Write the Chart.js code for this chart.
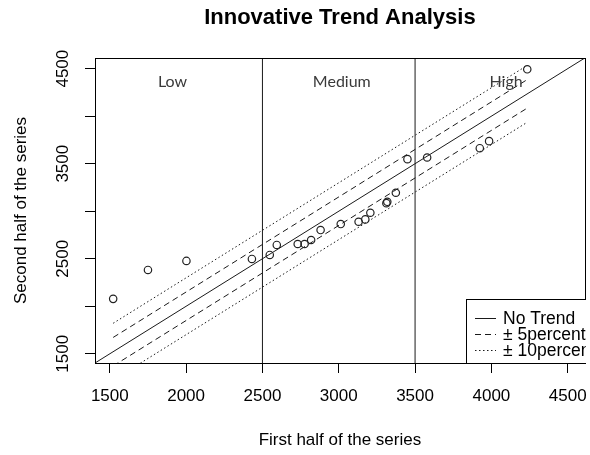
<!DOCTYPE html>
<html>
<head>
<meta charset="utf-8">
<script src="https://cdn.jsdelivr.net/npm/chart.js@4.4.1/dist/chart.umd.min.js"></script>
<style>
  html, body { margin: 0; padding: 0; background: #ffffff; }
  #wrap { width: 590px; height: 455px; position: relative; }
</style>
</head>
<body>
<div id="wrap"><canvas id="ita" width="590" height="455"></canvas></div>
<script>
// Sorted first half vs. sorted second half of the series
const firstHalf  = [1522, 1750, 2002, 2431, 2548, 2594, 2731, 2776, 2819, 2881, 3013,
                    3130, 3174, 3207, 3318, 3312, 3374, 3450, 3579, 3924, 3985, 4235];
const secondHalf = [2078, 2382, 2477, 2498, 2540, 2645, 2655, 2655, 2697, 2802, 2865,
                    2889, 2914, 2984, 3099, 3085, 3194, 3548, 3565, 3663, 3737, 4493];

// Axis range and tick labels
const axisLimits  = [1403, 4612];
const xTickValues = [1500, 2000, 2500, 3000, 3500, 4000, 4500];
const yTickLabels = [1500, 2500, 3500, 4500];

// 1:1 line and the ±5 % / ±10 % bands (endpoints at the first-half extremes)
const noTrendLine = [1403, 4612];
const bandX       = [1522, 4235];
const upper5      = [1672, 4385];
const lower5      = [1372, 4085];
const upper10     = [1821, 4534];
const lower10     = [1223, 3936];

// Low / Medium / High classes
const classBreaks = [2500, 3500];
const classNames  = ['Low', 'Medium', 'High'];
const legendLabels = ['No Trend', '\u00B1 5percent', '\u00B1 10percent'];

const SANS = "'Liberation Sans', Arial, sans-serif";
const INK = '#1a1a1a';
const DASH = [6, 4];
const DOT = [1.5, 2.5];

const pts = (xs, ys) => xs.map((x, i) => ({ x: x, y: ys[i] }));

const lineDs = (data, dash) => ({
  type: 'line', data: data, showLine: true, pointRadius: 0, borderWidth: 1,
  borderColor: INK, borderDash: dash, fill: false, tension: 0, order: 2
});

const datasets = [
  {
    label: 'points', data: pts(firstHalf, secondHalf), showLine: false,
    pointRadius: 3.7, pointBorderWidth: 1.2, pointBorderColor: '#222',
    pointBackgroundColor: 'rgba(0,0,0,0)', order: 1
  },
  lineDs(pts(noTrendLine, noTrendLine), []),
  lineDs(pts(bandX, upper5), DASH),
  lineDs(pts(bandX, lower5), DASH),
  lineDs(pts(bandX, upper10), DOT),
  lineDs(pts(bandX, lower10), DOT)
];
classBreaks.forEach(b => datasets.push(lineDs(pts([b, b], axisLimits), [])));

const decorations = {
  id: 'decorations',
  afterDatasetsDraw(chart) {
    const { ctx, chartArea: a, scales: { x, y } } = chart;
    ctx.save();

    // class names inside the plot
    ctx.fillStyle = '#3a3a3a';
    ctx.font = "16px Lato, 'Open Sans', sans-serif";
    ctx.textAlign = 'center';
    ctx.textBaseline = 'middle';
    const labelX = [1911, 3020, 4096];
    classNames.forEach((n, i) => ctx.fillText(n, x.getPixelForValue(labelX[i]), y.getPixelForValue(4356)));

    // plot frame
    ctx.strokeStyle = '#000';
    ctx.lineWidth = 1;
    ctx.setLineDash([]);
    ctx.strokeRect(Math.round(a.left) + 0.5, Math.round(a.top) + 0.5,
                   Math.round(a.right - a.left), Math.round(a.bottom - a.top));

    // legend, clipped at the right edge of the frame
    ctx.save();
    ctx.beginPath();
    ctx.rect(0, 0, Math.round(a.right) + 1, 455);
    ctx.clip();
    const lx = 466, ly = 299;
    ctx.fillStyle = '#fff';
    ctx.fillRect(lx, ly, 200, Math.round(a.bottom) - ly);
    ctx.strokeRect(lx + 0.5, ly + 0.5, 200, Math.round(a.bottom) - ly);
    const dashes = [[], DASH, DOT];
    ctx.font = '17.5px ' + SANS;
    ctx.textAlign = 'left';
    ctx.textBaseline = 'middle';
    legendLabels.forEach((t, i) => {
      const ry = 318 + i * 16;
      ctx.strokeStyle = INK;
      ctx.setLineDash(dashes[i]);
      ctx.beginPath();
      ctx.moveTo(475, ry + 0.5);
      ctx.lineTo(496, ry + 0.5);
      ctx.stroke();
      ctx.fillStyle = '#000';
      ctx.fillText(t, 503, ry + 1);
    });
    ctx.restore();

    // tick labels
    ctx.fillStyle = '#000';
    ctx.font = '17px ' + SANS;
    ctx.textAlign = 'center';
    ctx.textBaseline = 'middle';
    xTickValues.forEach(v => ctx.fillText(String(v), x.getPixelForValue(v), 396));
    yTickLabels.forEach(v => {
      ctx.save();
      ctx.translate(63, y.getPixelForValue(v));
      ctx.rotate(-Math.PI / 2);
      ctx.fillText(String(v), 0, 0);
      ctx.restore();
    });

    // axis titles
    const cx = (a.left + a.right) / 2, cy = (a.top + a.bottom) / 2;
    ctx.fillText('First half of the series', cx, 440);
    ctx.save();
    ctx.translate(21, cy);
    ctx.rotate(-Math.PI / 2);
    ctx.fillText('Second half of the series', 0, 0);
    ctx.restore();

    // main title
    ctx.font = 'bold 22px ' + SANS;
    ctx.fillText('Innovative Trend Analysis', cx, 18);
    ctx.restore();
  }
};

const zeroFit = (s) => {
  if (s.isHorizontal()) { s.height = 0; } else { s.width = 0; }
  s.paddingLeft = 0; s.paddingRight = 0; s.paddingTop = 0; s.paddingBottom = 0;
};

new Chart(document.getElementById('ita'), {
  type: 'scatter',
  data: { datasets: datasets },
  options: {
    responsive: false,
    animation: false,
    devicePixelRatio: 1,
    layout: { padding: { left: 95, right: 3, top: 58, bottom: 92 } },
    plugins: { legend: { display: false }, tooltip: { enabled: false }, title: { display: false } },
    scales: {
      x: {
        type: 'linear', min: axisLimits[0], max: axisLimits[1],
        afterBuildTicks: s => { s.ticks = xTickValues.map(v => ({ value: v })); },
        afterFit: zeroFit,
        ticks: { display: false, includeBounds: false },
        grid: { drawOnChartArea: false, drawTicks: true, tickLength: 10, color: '#000', lineWidth: 1 },
        border: { display: false }
      },
      y: {
        type: 'linear', min: axisLimits[0], max: axisLimits[1],
        afterBuildTicks: s => { s.ticks = xTickValues.map(v => ({ value: v })); },
        afterFit: zeroFit,
        ticks: { display: false, includeBounds: false },
        grid: { drawOnChartArea: false, drawTicks: true, tickLength: 10, color: '#000', lineWidth: 1 },
        border: { display: false }
      }
    }
  },
  plugins: [decorations]
});
</script>
</body>
</html>
